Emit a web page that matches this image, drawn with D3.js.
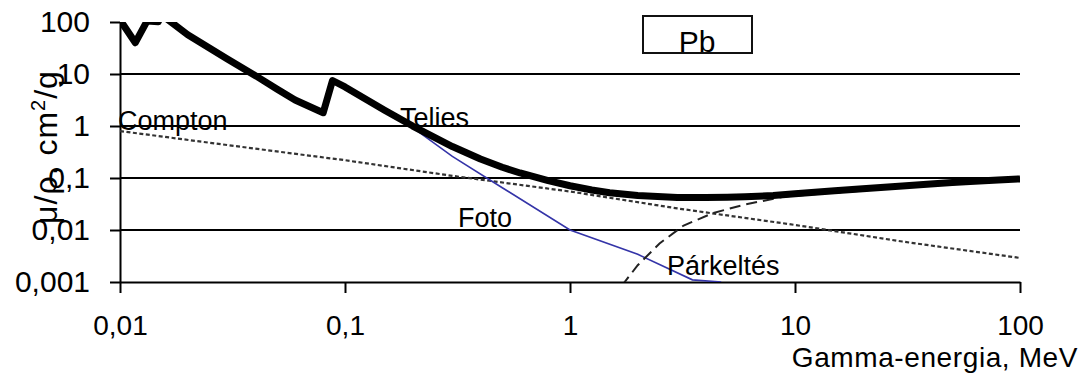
<!DOCTYPE html>
<html>
<head>
<meta charset="utf-8">
<script src="https://cdn.jsdelivr.net/npm/d3@7"></script>
<style>
  html, body { margin: 0; padding: 0; background: #fff; }
  svg { display: block; font-family: "Liberation Sans", Arial, sans-serif; }
</style>
</head>
<body>
<svg id="chart" width="1085" height="374"></svg>
<script>
// Mass attenuation coefficient of lead (μ/ρ, cm²/g) versus gamma energy (MeV)
const energyTotal = [0.01, 0.0117, 0.0132, 0.0148, 0.0152, 0.02, 0.03, 0.04, 0.05, 0.06, 0.08, 0.088, 0.1, 0.15, 0.2, 0.3, 0.4, 0.5, 0.6, 0.8, 1, 1.25, 1.5, 2, 3, 4, 5, 6, 8, 10, 15, 20, 30, 40, 50, 60, 80, 100];
const total = [110, 40, 105, 101, 140, 57, 19.5, 9.3, 5.1, 3.16, 1.8, 7.5, 5.65, 2.01, 0.999, 0.403, 0.232, 0.161, 0.125, 0.0887, 0.071, 0.0588, 0.0522, 0.046, 0.0423, 0.042, 0.0427, 0.0436, 0.0461, 0.0497, 0.0566, 0.0621, 0.0704, 0.0766, 0.0816, 0.0856, 0.0919, 0.0962];

const energyCompton = [0.01, 0.03, 0.1, 0.3, 1, 3, 10, 30, 100];
const compton = [0.8, 0.43, 0.22, 0.11, 0.055, 0.026, 0.0125, 0.006, 0.0029];

const energyPhoto = [0.2, 0.3, 0.5, 1, 2, 3.5, 4.7];
const photo = [0.93, 0.26, 0.065, 0.01, 0.0034, 0.0011, 0.001];

const energyPair = [1.7, 2, 2.5, 3.2, 4.3, 6, 9, 15, 30, 60, 100];
const pair = [0.00085, 0.0021, 0.0055, 0.0122, 0.021, 0.031, 0.044, 0.052, 0.066, 0.08, 0.09];

const xTicks = [0.01, 0.1, 1, 10, 100];
const xTickLabels = ["0,01", "0,1", "1", "10", "100"];
const yTicks = [0.001, 0.01, 0.1, 1, 10, 100];
const yTickLabels = ["0,001", "0,01", "0,1", "1", "10", "100"];

const svg = d3.select("#chart");
const plotLeft = 120, plotRight = 1020, plotTop = 22, plotBottom = 282;

const x = d3.scaleLog().domain([0.01, 100]).range([plotLeft, plotRight]);
const y = d3.scaleLog().domain([0.001, 100]).range([plotBottom, plotTop]);

svg.append("defs").append("clipPath").attr("id", "plot-clip")
  .append("rect").attr("x", plotLeft).attr("y", plotTop)
  .attr("width", plotRight - plotLeft).attr("height", plotBottom - plotTop);

// horizontal grid lines at the inner decades
svg.append("g").selectAll("line")
  .data(yTicks.filter(v => v > 0.001 && v < 100))
  .join("line")
  .attr("x1", plotLeft).attr("x2", plotRight)
  .attr("y1", d => y(d)).attr("y2", d => y(d))
  .attr("stroke", "#000").attr("stroke-width", 2);

// y axis
const yAxis = d3.axisLeft(y)
  .tickValues(yTicks)
  .tickFormat((d, i) => yTickLabels[i])
  .tickSize(10).tickSizeOuter(0).tickPadding(20);
const gy = svg.append("g").attr("transform", `translate(${plotLeft},0)`).call(yAxis);
gy.select(".domain").attr("stroke", "#000").attr("stroke-width", 2);
gy.selectAll(".tick line").attr("stroke", "#000").attr("stroke-width", 2);
gy.selectAll(".tick text").attr("font-size", 30).attr("fill", "#000")
  .attr("font-family", "Liberation Sans, Arial, sans-serif");

// x axis
const xAxis = d3.axisBottom(x)
  .tickValues(xTicks)
  .tickFormat((d, i) => xTickLabels[i])
  .tickSize(11).tickSizeOuter(0).tickPadding(22);
const gx = svg.append("g").attr("transform", `translate(0,${plotBottom})`).call(xAxis);
gx.select(".domain").attr("stroke", "#000").attr("stroke-width", 2);
gx.selectAll(".tick line").attr("stroke", "#000").attr("stroke-width", 2);
gx.selectAll(".tick text").attr("font-size", 28).attr("fill", "#000")
  .attr("font-family", "Liberation Sans, Arial, sans-serif");

const line = d3.line().x(d => x(d[0])).y(d => y(d[1]));
const zip = (a, b) => a.map((v, i) => [v, b[i]]);

const plot = svg.append("g").attr("clip-path", "url(#plot-clip)");

// Compton scattering
plot.append("path").datum(zip(energyCompton, compton))
  .attr("d", line).attr("fill", "none")
  .attr("stroke", "#333").attr("stroke-width", 2.2)
  .attr("stroke-dasharray", "4,2.5");

// photoelectric effect
plot.append("path").datum(zip(energyPhoto, photo))
  .attr("d", line).attr("fill", "none")
  .attr("stroke", "#3434a8").attr("stroke-width", 1.6);

// pair production
plot.append("path").datum(zip(energyPair, pair))
  .attr("d", line).attr("fill", "none")
  .attr("stroke", "#222").attr("stroke-width", 2)
  .attr("stroke-dasharray", "11,6");

// total attenuation
plot.append("path").datum(zip(energyTotal, total))
  .attr("d", line).attr("fill", "none")
  .attr("stroke", "#000").attr("stroke-width", 7)
  .attr("stroke-linejoin", "round");

// curve labels
const labels = [
  { text: "Compton", x: 118, y: 130 },
  { text: "Telies", x: 400, y: 127 },
  { text: "Foto", x: 458, y: 227 },
  { text: "Párkeltés", x: 667, y: 275 }
];
svg.append("g").selectAll("text").data(labels).join("text")
  .attr("x", d => d.x).attr("y", d => d.y)
  .attr("font-size", 27).attr("fill", "#000")
  .text(d => d.text);

// element box
svg.append("rect").attr("x", 643).attr("y", 16).attr("width", 109).attr("height", 37)
  .attr("fill", "#fff").attr("stroke", "#111").attr("stroke-width", 2);
svg.append("text").attr("x", 697).attr("y", 52).attr("text-anchor", "middle")
  .attr("font-size", 30).attr("fill", "#000").text("Pb");

// axis titles
svg.append("text").attr("x", 1078).attr("y", 367).attr("text-anchor", "end")
  .attr("font-size", 28).attr("letter-spacing", 0.6).attr("fill", "#000")
  .text("Gamma-energia, MeV");

const yt = svg.append("text")
  .attr("transform", "translate(57,147) rotate(-90)")
  .attr("text-anchor", "middle")
  .attr("font-size", 32).attr("letter-spacing", 1).attr("fill", "#000");
yt.append("tspan").text("μ/ρ, cm");
yt.append("tspan").attr("font-size", 20).attr("dy", -12).text("2");
yt.append("tspan").attr("dy", 12).text("/g");
</script>
</body>
</html>
